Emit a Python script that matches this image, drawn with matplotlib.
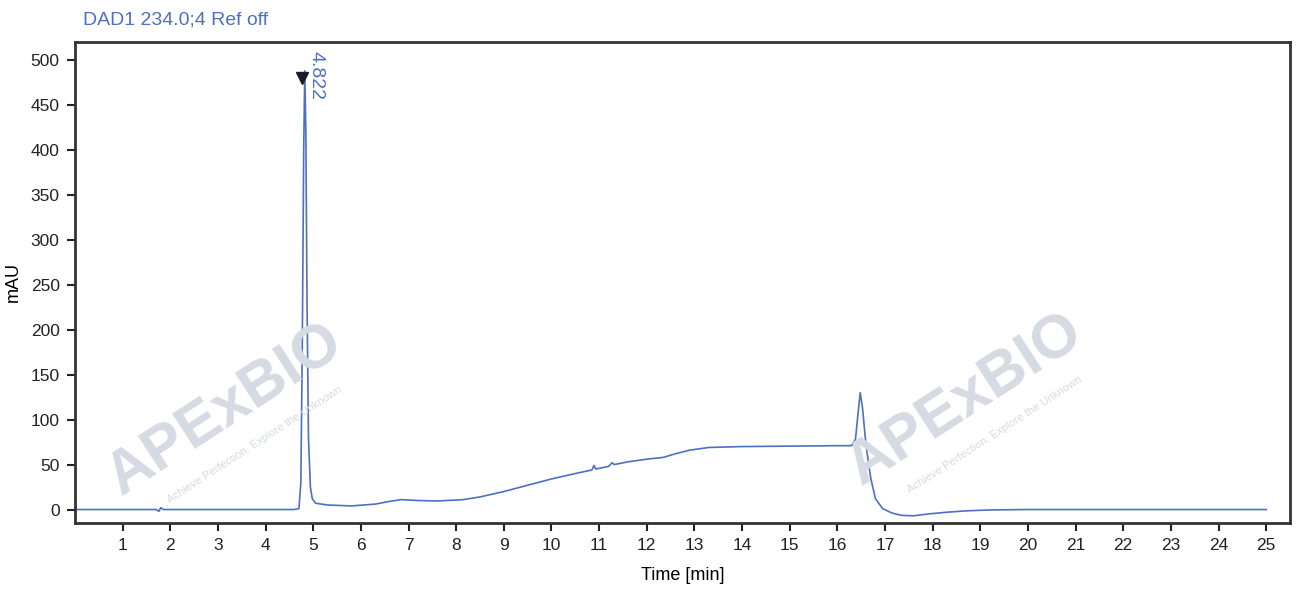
import matplotlib
matplotlib.use("Agg")
import matplotlib.pyplot as plt

# chromatogram trace (time in min, signal in mAU)
time_min = [0.0, 1.70, 1.76, 1.80, 1.86, 4.60, 4.70, 4.74, 4.77, 4.80, 4.822, 4.845,
            4.87, 4.90, 4.94, 4.98, 5.05, 5.3, 5.8, 6.3, 6.6, 6.85, 7.2, 7.6, 8.0,
            8.15, 8.5, 9.0, 9.5, 10.0, 10.5, 10.85, 10.89, 10.93, 11.2, 11.27, 11.32,
            11.6, 12.0, 12.35, 12.6, 12.9, 13.3, 14.0, 15.0, 16.0, 16.3, 16.38, 16.44,
            16.48, 16.53, 16.6, 16.7, 16.8, 16.95, 17.15, 17.35, 17.6, 17.9, 18.3,
            18.7, 19.2, 20.0, 22.0, 25.0]
signal_mau = [0.0, 0.0, -2.0, 2.0, 0.0, 0.0, 1.0, 30.0, 180.0, 400.0, 488.0, 420.0,
              230.0, 80.0, 25.0, 12.0, 7.0, 5.0, 4.0, 6.0, 9.0, 11.0, 10.0, 9.5, 10.5,
              11.0, 14.0, 20.0, 27.0, 34.0, 40.0, 44.0, 49.0, 45.0, 48.0, 52.0, 50.0,
              53.0, 56.0, 58.0, 62.0, 66.0, 69.0, 70.0, 70.5, 71.0, 71.0, 78.0, 110.0,
              130.0, 112.0, 72.0, 35.0, 12.0, 1.0, -4.0, -6.5, -7.0, -5.0, -3.0, -1.5,
              -0.5, 0.0, 0.0, 0.0]

peak_rt = 4.822
peak_height = 488.0
peak_label = "4.822"

x_ticks = list(range(1, 26))
y_ticks = list(range(0, 501, 50))

BLUE = "#4d6fc4"
WM = "#d6dae2"
plt.rcParams["font.family"] = ["Liberation Sans", "DejaVu Sans"]

fig = plt.figure(figsize=(12.98, 5.90), dpi=100)
ax = fig.add_axes([75 / 1298, 1 - 523 / 590, (1290 - 75) / 1298, (523 - 42) / 590])

# faint watermarks
for (wx, wy) in [(225, 410), (965, 400)]:
    fig.text(wx / 1298, 1 - wy / 590, "APExBIO", fontsize=44, fontweight="bold",
             color=WM, rotation=33, ha="center", va="center", zorder=0)
    fig.text((wx + 30) / 1298, 1 - (wy + 35) / 590, "Achieve Perfection, Explore the Unknown",
             fontsize=8, color=WM, rotation=33, ha="center", va="center", zorder=0)

ax.patch.set_alpha(0)
ax.plot(time_min, signal_mau, color=BLUE, lw=1.2)

# peak marker + retention time label
ax.plot([peak_rt - 0.06], [peak_height - 8], marker="v", color="#1a1a2a", ms=8)
ax.text(peak_rt + 0.06, peak_height + 22, peak_label, rotation=-90, color=BLUE,
        fontsize=14, ha="left", va="top")

ax.set_xlim(0, 25.5)
ax.set_ylim(-15, 520)
ax.set_xticks(x_ticks)
ax.set_yticks(y_ticks)
ax.tick_params(direction="out", length=6, width=1.5, labelsize=12.5, colors="#222", pad=5)
for s in ax.spines.values():
    s.set_linewidth(2)
    s.set_color("#333")

ax.set_xlabel("Time [min]", fontsize=13, labelpad=10)
ax.set_ylabel("mAU", fontsize=13, labelpad=6)
fig.text(83 / 1298, 1 - 20 / 590, "DAD1 234.0;4 Ref off", color=BLUE, fontsize=14,
         ha="left", va="center")

fig.savefig("out.png", dpi=100)
